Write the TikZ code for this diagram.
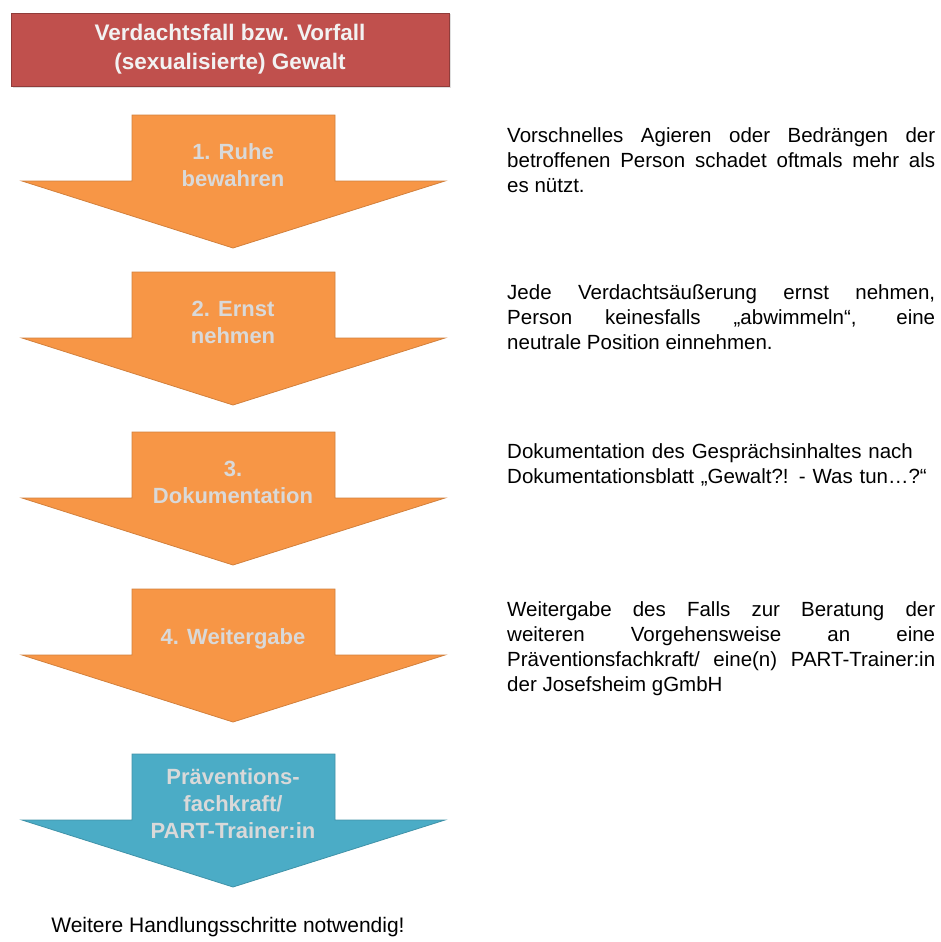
\documentclass[tikz,border=0pt]{standalone}
\usepackage{fontspec}
\setmainfont{Liberation Sans}
\usetikzlibrary{shadows}
\definecolor{caseRed}{HTML}{C0504D}
\definecolor{stepOrange}{HTML}{F79646}
\definecolor{stepBlue}{HTML}{4BACC6}
\definecolor{labelGray}{HTML}{D9D9D9}
\tikzset{
  casebox/.style={draw=caseRed!75!black, fill=caseRed, text=white!95!black,
    minimum width=438pt, minimum height=73pt, align=center,
    drop shadow={opacity=0.25, shadow xshift=1.5pt, shadow yshift=-1.5pt},
    font=\fontsize{22.5}{29}\selectfont\bfseries},
  arrowshape/.style={line width=0.8pt, line join=miter},
  arrowtext/.style={text=labelGray, align=center,
    font=\fontsize{22}{27}\selectfont\bfseries},
  note/.style={anchor=north west, inner sep=0pt, text width=428pt,
    align=justify, font=\fontsize{20.5}{25}\selectfont},
}
% #1 name, #2 top of the stem, #3 colour, #4 label
\newcommand{\steparrow}[4]{
  \draw[arrowshape, fill=#3, draw=#3!85!black]
    (132,#2) -- (335,#2) -- (335,#2+66) -- (445,#2+66) -- (233,#2+133)
    -- (22,#2+66) -- (132,#2+66) -- cycle;
  \node[arrowtext] (#1) at (233,#2+50) {#4};
}

\begin{document}
\begin{tikzpicture}[x=1pt,y=-1pt]
  \useasboundingbox (0,0) rectangle (941,942);

  \node[casebox] (case) at (230,49.5) {Verdachtsfall bzw. Vorfall\\(sexualisierte) Gewalt};

  \steparrow{calm}{115}{stepOrange}{1. Ruhe\\bewahren}
  \steparrow{serious}{272}{stepOrange}{2. Ernst\\nehmen}
  \steparrow{record}{432}{stepOrange}{3.\\Dokumentation}
  \steparrow{pass}{589}{stepOrange}{4. Weitergabe}
  \steparrow{expert}{754}{stepBlue}{Präventions-\\fachkraft/\\PART-Trainer:in}

  \node[note] (calmnote) at (507,127) {Vorschnelles Agieren oder Bedrängen der\linebreak
    betroffenen Person schadet oftmals mehr als\linebreak es nützt.};
  \node[note] (seriousnote) at (507,284) {Jede Verdachtsäußerung ernst nehmen,\linebreak
    Person keinesfalls „abwimmeln“, eine\linebreak neutrale Position einnehmen.};
  \node[note, align=left] (recordnote) at (507,443) {Dokumentation des Gesprächsinhaltes nach\\
    Dokumentationsblatt „Gewalt?! - Was tun…?“};
  \node[note] (passnote) at (507,601) {Weitergabe des Falls zur Beratung der\linebreak
    weiteren Vorgehensweise an eine\linebreak Präventionsfachkraft/ eine(n) PART-Trainer:in\linebreak
    der Josefsheim gGmbH};

  \node[font=\fontsize{21}{25}\selectfont] (next) at (228,927) {Weitere Handlungsschritte notwendig!};
\end{tikzpicture}
\end{document}
